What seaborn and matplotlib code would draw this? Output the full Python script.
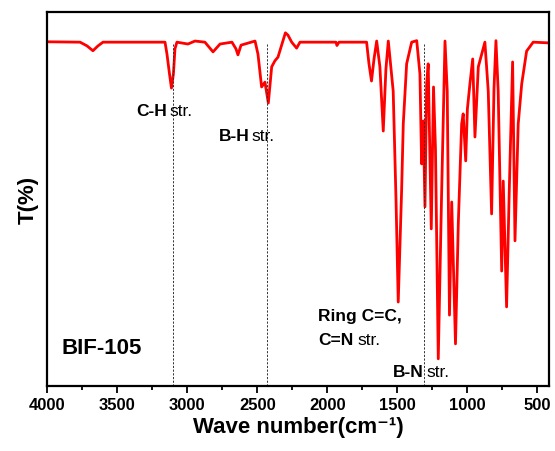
import matplotlib
matplotlib.use("Agg")
import matplotlib.pyplot as plt
from matplotlib.ticker import MultipleLocator
import seaborn as sns
import pandas as pd

# FTIR spectrum of BIF-105: wavenumber (cm^-1) and transmittance (arbitrary %)
wavenumber = [4000, 3766, 3716, 3674, 3638, 3602, 3159, 3145, 3127, 3113, 3099, 3088, 3074,
              2995, 2945, 2874, 2816, 2766, 2681, 2652, 2638, 2616, 2516, 2495, 2469, 2445,
              2421, 2397, 2374, 2352, 2326, 2299, 2281, 2254, 2219, 2195, 1938, 1931, 1916,
              1719, 1702, 1684, 1666, 1647, 1624, 1600, 1581, 1564, 1529, 1509, 1493, 1469,
              1457, 1433, 1397, 1361, 1338, 1326, 1314, 1302, 1290, 1279, 1257, 1241, 1227,
              1207, 1184, 1159, 1143, 1127, 1111, 1084, 1064, 1040, 1029, 1011, 999, 981,
              961, 945, 921, 874, 850, 826, 809, 795, 779, 754, 743, 719, 700, 676, 659,
              636, 611, 576, 529, 414]
transmittance = [92.1, 92.0, 91.0, 89.7, 91.0, 92.0, 92.0, 88.8, 83.5, 79.7, 83.5, 90.2, 92.0,
                 91.5, 92.3, 92.0, 89.4, 91.5, 92.0, 90.2, 88.6, 91.2, 92.3, 88.8, 80.0, 81.3,
                 75.7, 85.4, 87.0, 88.0, 91.2, 94.5, 93.9, 92.0, 90.4, 92.0, 92.0, 91.1, 92.0,
                 92.0, 86.2, 81.6, 87.5, 92.3, 85.4, 68.2, 84.8, 92.3, 78.9, 50.0, 22.4, 52.1,
                 70.1, 86.2, 92.0, 92.4, 83.5, 59.4, 70.9, 47.9, 80.8, 86.2, 42.0, 80.0, 63.4,
                 7.2, 50.0, 92.3, 78.9, 18.9, 49.2, 11.2, 43.3, 70.1, 72.8, 60.2, 74.1, 80.8,
                 87.5, 66.6, 85.4, 92.0, 78.9, 46.0, 79.5, 92.4, 78.9, 30.7, 54.8, 21.1, 52.1,
                 86.7, 38.8, 70.1, 80.8, 89.6, 92.0, 91.8]

# Band assignments marked with vertical guide lines
band_positions = [3104, 2429, 1307]
guide_top = 91.5

x_ticks = [4000, 3500, 3000, 2500, 2000, 1500, 1000, 500]

sns.set_style("white")
plt.rcParams["font.family"] = ["Liberation Sans", "DejaVu Sans"]
plt.rcParams["text.color"] = "black"
plt.rcParams["axes.labelcolor"] = "black"
plt.rcParams["xtick.color"] = "black"
plt.rcParams["ytick.color"] = "black"

fig = plt.figure(figsize=(5.55, 4.52), dpi=100)
ax = fig.add_axes([0.0852, 0.1445, 0.9045, 0.8261])

df = pd.DataFrame({"wn": wavenumber, "T": transmittance})
sns.lineplot(data=df, x="wn", y="T", sort=False, color="#ff0000", linewidth=2.0, ax=ax)

ax.vlines(band_positions, 0, guide_top, colors="#333333", linewidth=0.7,
          linestyles=(0, (2.2, 1.6)))

ax.set_xlim(4000, 414)
ax.set_ylim(0, 100)
ax.set_xticks(x_ticks)
ax.xaxis.set_minor_locator(MultipleLocator(250))
ax.set_yticks([])
ax.tick_params(axis="x", which="major", direction="out", length=5, width=1.3,
               labelsize=12, pad=3, bottom=True, top=False, colors="black")
ax.tick_params(axis="x", which="minor", direction="out", length=3, width=1.3,
               bottom=True, top=False, colors="black")
for lbl in ax.get_xticklabels():
    lbl.set_fontweight("bold")

for s in ax.spines.values():
    s.set_visible(True)
    s.set_linewidth(1.6)
    s.set_color("black")

ax.set_xlabel("Wave number(cm\u207b\u00b9)", fontsize=16, fontweight="bold", labelpad=3)
ax.set_ylabel("T(%)", fontsize=16, fontweight="bold", labelpad=6)

FS = 12.5

# Band labels: bold group name followed by regular "str."
def band_label(x_split, y, bold, rest, gap=14):
    ax.text(x_split + gap / 2, y, bold, ha="right", va="center", fontsize=FS, fontweight="bold")
    ax.text(x_split - gap / 2, y, rest, ha="left", va="center", fontsize=FS)

band_label(3136, 73.8, "C-H", "str.")
band_label(2545, 67.1, "B-H", "str.")
band_label(1302, 3.7, "B-N", "str.", gap=26)

ax.text(2066, 18.7, "Ring C=C,", ha="left", va="center", fontsize=FS, fontweight="bold")
ax.text(2066, 12.5, "C=N", ha="left", va="center", fontsize=FS, fontweight="bold")
ax.text(1785, 12.5, "str.", ha="left", va="center", fontsize=FS)

ax.text(3897, 10.3, "BIF-105", ha="left", va="center", fontsize=16, fontweight="bold")

fig.savefig("out.png", dpi=100)
